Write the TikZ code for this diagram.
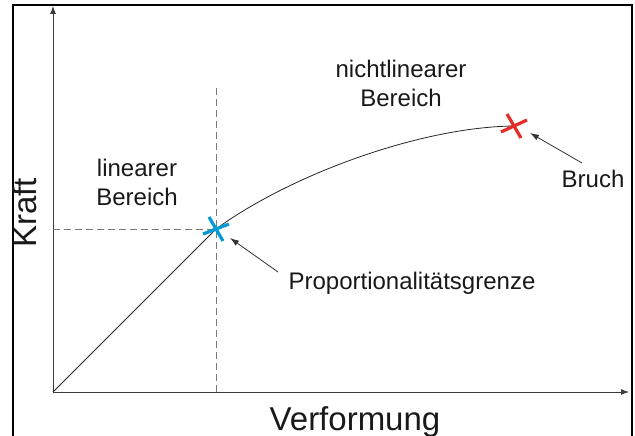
\documentclass[tikz,border=0pt]{standalone}
\usepackage{fontspec}
\setmainfont{Liberation Sans}
\usetikzlibrary{arrows.meta,positioning,calc}
\definecolor{achse}{RGB}{60, 60, 60}
\definecolor{hilfslinie}{RGB}{120, 120, 120}
\definecolor{blaukreuz}{RGB}{0, 155, 215}
\definecolor{rotkreuz}{RGB}{228, 45, 40}
\tikzset{
    achsenpfeil/.style={draw=achse, line width=0.9pt, -{Latex[length=8pt,width=6pt]}},
    hilfsstrich/.style={draw=hilfslinie, line width=0.9pt, dash pattern=on 7pt off 4pt},
    kurve/.style={draw=black!85, line width=0.8pt},
    beschriftung/.style={font=\fontsize{24}{29}\selectfont, text=black!90, align=center, inner sep=0pt},
    zeiger/.style={draw=black!80, line width=0.8pt, -{Latex[length=9pt,width=6pt]}},
    kreuzstrich/.style={line width=3.2pt}
}

\begin{document}
\begin{tikzpicture}[x=1pt, y=-1pt]
\useasboundingbox (0,0) rectangle (635,436);
\draw[line width=2.2pt] (13,5) rectangle (632,450);

% Achsen
\coordinate (ursprung) at (53,392);
\coordinate (yende) at (53,6);
\coordinate (xende) at (629,392);
\draw[achsenpfeil] (ursprung) -- (yende);
\draw[achsenpfeil] (ursprung) -- (xende);

% Punkte
\coordinate (grenze) at (216,229);
\coordinate (bruch) at (514,126);
\coordinate (oben) at (216,88);

\draw[hilfsstrich] (oben) -- (216,392);
\draw[hilfsstrich] (53,229) -- (grenze);

% Kennlinie
\draw[kurve] (ursprung) -- (grenze) .. controls (290,175) and (420,127) .. (bruch);

% Kreuze
\draw[kreuzstrich, draw=blaukreuz] ($(grenze)+(-7,-12)$) -- ($(grenze)+(7,12)$);
\draw[kreuzstrich, draw=blaukreuz] ($(grenze)+(-13,5)$) -- ($(grenze)+(13,-5)$);
\draw[kreuzstrich, draw=rotkreuz] ($(bruch)+(-7,-12)$) -- ($(bruch)+(7,12)$);
\draw[kreuzstrich, draw=rotkreuz] ($(bruch)+(-13,6)$) -- ($(bruch)+(13,-6)$);

% Beschriftungen
\node[beschriftung, font=\fontsize{33}{38}\selectfont, anchor=base] (verformung) at (355,430) {Verformung};
\node[beschriftung, font=\fontsize{33}{38}\selectfont, rotate=90, anchor=base] (kraft) at (36,213) {Kraft};
\node[beschriftung] (linear) at (137,182) {linearer\\Bereich};
\node[beschriftung] (nichtlinear) at (401,83) {nichtlinearer\\Bereich};
\node[beschriftung] (bruchtext) at (593,179) {Bruch};
\node[beschriftung] (grenztext) at (412,283) {Proportionalitätsgrenze};

% Zeiger
\coordinate (bruchspitze) at (530,133);
\coordinate (grenzspitze) at (230,238);
\draw[zeiger] (582,163) -- (bruchspitze);
\draw[zeiger] (278,272) -- (grenzspitze);
\end{tikzpicture}
\end{document}
